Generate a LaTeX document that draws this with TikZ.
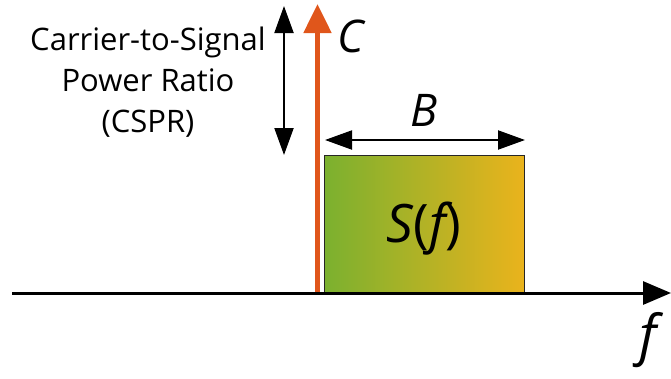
\documentclass[tikz,border=0pt]{standalone}
\usepackage{fontspec}
\setmainfont{Open Sans}
\usetikzlibrary{arrows.meta}
\definecolor{carrier}{HTML}{E0561B}
\definecolor{sigL}{HTML}{7BB12F}
\definecolor{sigR}{HTML}{EAB31C}
\tikzset{
  axisline/.style={line width=3pt,-{Triangle[length=28pt,width=23pt]}},
  carrierline/.style={line width=5pt,carrier,-{Triangle[length=29pt,width=27pt]}},
  dimline/.style={line width=2pt,{Triangle[length=27pt,width=19pt]}-{Triangle[length=27pt,width=19pt]}},
  lbl/.style={font=\fontsize{31}{41}\selectfont,align=center,inner sep=0pt},
  mathlbl/.style={font=\itshape\fontsize{45}{45}\selectfont,inner sep=0pt},
  biglbl/.style={font=\itshape\fontsize{53}{53}\selectfont,inner sep=0pt}
}
\begin{document}
\begin{tikzpicture}[x=1pt,y=-1pt]
\useasboundingbox (0,0) rectangle (671,378);
% signal box
\node[draw=black!85,line width=1pt,left color=sigL,right color=sigR,minimum width=200pt,minimum height=137pt,inner sep=0pt,anchor=north west] (sig) at (324,155) {};
\node[biglbl] (sf) at (424,229) {S{\upshape(}f{\upshape)}};
% axis
\coordinate (ax0) at (12,293);
\coordinate (ax1) at (671,293);
\draw[axisline] (ax0) -- (ax1);
\node[font=\itshape\fontsize{55}{55}\selectfont,inner sep=0pt] (fl) at (648,340) {f};
% carrier
\coordinate (c0) at (317.5,292);
\coordinate (c1) at (317.5,4);
\draw[carrierline] (c0) -- (c1);
\node[mathlbl] (cl) at (351,36) {C};
% CSPR arrow
\coordinate (p0) at (284,6);
\coordinate (p1) at (284,155);
\draw[dimline] (p0) -- (p1);
\node[lbl] (txt) at (148,82) {Carrier-to-Signal\\Power Ratio\\(CSPR)};
% bandwidth arrow
\coordinate (b0) at (325,140);
\coordinate (b1) at (525,140);
\draw[dimline] (b0) -- (b1);
\node[mathlbl] (bl) at (424,110) {B};
\end{tikzpicture}
\end{document}
